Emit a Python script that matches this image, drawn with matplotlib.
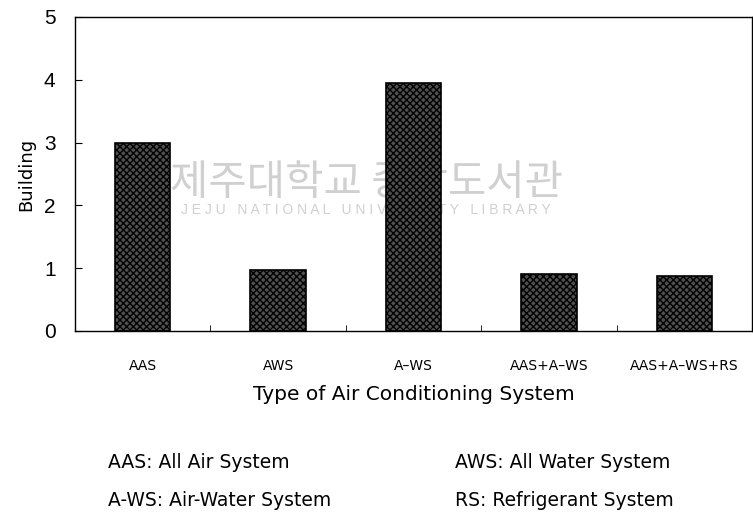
import numpy as np
import matplotlib.pyplot as plt

plt.rcParams['font.family'] = ['DejaVu Sans']

systems = ['AAS', 'AWS', 'A\u2013WS', 'AAS+A\u2013WS', 'AAS+A\u2013WS+RS']
buildings = [3.0, 0.97, 3.95, 0.9, 0.87]
yticks = [0, 1, 2, 3, 4, 5]
notes = [('AAS: All Air System', 'AWS: All Water System'),
         ('A-WS: Air-Water System', 'RS: Refrigerant System')]

fig = plt.figure(figsize=(7.53, 5.22), dpi=100)
ax = fig.add_axes([75 / 753, 1 - 331 / 522, 677 / 753, 314 / 522])

x = np.arange(len(systems))
ax.bar(x, buildings, width=0.41, color='#505050', edgecolor='black',
       hatch='xxxxx', linewidth=1.2, zorder=3)

ax.set_xlim(-0.5, len(systems) - 0.5)
ax.set_ylim(0, 5)
ax.set_yticks(yticks)
ax.set_yticklabels([str(t) for t in yticks], fontsize=15,
                   family=['Liberation Sans', 'DejaVu Sans'])
ax.set_xticks(x)
ax.set_xticklabels(systems, fontsize=10)
ax.set_xticks(x[:-1] + 0.5, minor=True)
ax.tick_params(axis='x', which='major', length=0, pad=20)
ax.tick_params(axis='x', which='minor', direction='in', length=4)
ax.tick_params(axis='y', direction='in', length=5, pad=14)
for s in ax.spines.values():
    s.set_linewidth(1.0)

ax.set_ylabel('Building', fontsize=13, labelpad=6)
ax.set_xlabel('Type of Air Conditioning System', fontsize=14.5, labelpad=9)

# faint library watermark from the scanned page
ax.text(0.43, 0.47, '제주대학교 중앙도서관', transform=ax.transAxes, ha='center',
        va='center', fontsize=30, color='#d0d0d0',
        family=['Noto Sans CJK KR', 'DejaVu Sans'], zorder=1)
ax.text(0.43, 0.385, 'J E J U   N A T I O N A L   U N I V E R S I T Y   L I B R A R Y',
        transform=ax.transAxes, ha='center', va='center', fontsize=10,
        color='#d0d0d0', zorder=1, family=['Liberation Sans', 'DejaVu Sans'])

for row, (left, right) in enumerate(notes):
    y = 1 - (462 + 38 * row) / 522
    fig.text(108 / 753, y, left, fontsize=13.5, va='center')
    fig.text(455 / 753, y, right, fontsize=13.5, va='center')

fig.savefig('out.png', dpi=100)
